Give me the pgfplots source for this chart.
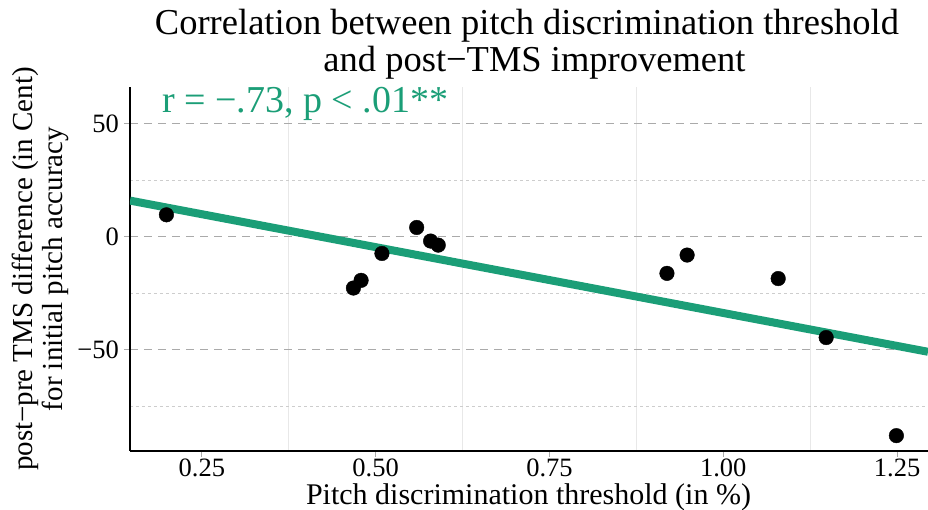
\documentclass[border=0pt]{standalone}
\usepackage{fontspec}
\setmainfont{Liberation Serif}
\usepackage{pgfplots}
\pgfplotsset{compat=1.18}

\definecolor{fitgreen}{RGB}{27,158,119}
\definecolor{majgrid}{RGB}{170,170,170}
\definecolor{mingrid}{RGB}{205,205,205}
\definecolor{vgrid}{RGB}{232,232,232}

\begin{document}
\begin{tikzpicture}[x=1pt,y=1pt]
\begin{axis}[
  at={(0,0)}, anchor=south west,
  scale only axis, width=798pt, height=364.3pt,
  xmin=0.1466, xmax=1.2945, ymin=-94.7, ymax=66.5,
  axis x line*=bottom, axis y line*=left,
  axis line style={black, line width=1.4pt, -},
  xtick={0.25,0.5,0.75,1,1.25},
  xticklabels={0.25,0.50,0.75,1.00,1.25},
  ytick={-50,0,50},
  yticklabels={−50,0,50},
  minor xtick={0.375,0.625,0.875,1.125},
  minor ytick={-75,-25,25},
  tick align=outside,
  major tick length=6pt, minor tick length=0pt,
  tick style={majgrid, line width=1pt},
  ymajorgrids, xminorgrids, yminorgrids,
  major y grid style={majgrid, dash pattern=on 8pt off 6pt, line width=1pt},
  minor y grid style={mingrid, dash pattern=on 3pt off 3pt, line width=1pt},
  minor x grid style={vgrid, line width=1pt},
  ticklabel style={font=\fontsize{26.5}{31}\selectfont},
  xticklabel style={inner sep=2pt},
  yticklabel style={inner sep=5pt},
  /pgf/number format/assume math mode=true,
  clip=true,
]
% individual participants
\addplot[only marks, mark=*, mark size=7.3pt, black] coordinates {
  (0.199, 9.8)
  (0.468,-22.6)
  (0.479,-19.2)
  (0.509,-7.3)
  (0.559, 4.2)
  (0.579,-1.8)
  (0.590,-3.6)
  (0.919,-16.1)
  (0.948,-8.0)
  (1.079,-18.4)
  (1.148,-44.5)
  (1.249,-87.9)
};
% least-squares fit
\addplot[fitgreen, line width=8pt] coordinates {(0.1466,16.1) (1.2945,-50.8)};
\end{axis}

% correlation annotation
\node[anchor=base west, text=fitgreen, inner sep=0, font=\fontsize{38}{44}\selectfont]
  at (32,338) {r = −.73, p < .01**};

% title
\node[anchor=base, inner sep=0, font=\fontsize{36.5}{42}\selectfont]
  at (397,416) {Correlation between pitch discrimination threshold};
\node[anchor=base, inner sep=0, font=\fontsize{36.5}{42}\selectfont]
  at (404.5,379) {and post−TMS improvement};

% axis labels
\node[anchor=base, inner sep=0, font=\fontsize{30}{35}\selectfont]
  at (398.5,-54) {Pitch discrimination threshold (in \%)};
\node[anchor=base, inner sep=0, rotate=90, font=\fontsize{29}{34}\selectfont]
  at (-97,182) {post−pre TMS difference (in Cent)};
\node[anchor=base, inner sep=0, rotate=90, font=\fontsize{29}{34}\selectfont]
  at (-67,182) {for initial pitch accuracy};

\pgfresetboundingbox
\path[use as bounding box] (-130,-59) rectangle (798,451);
\end{tikzpicture}
\end{document}
